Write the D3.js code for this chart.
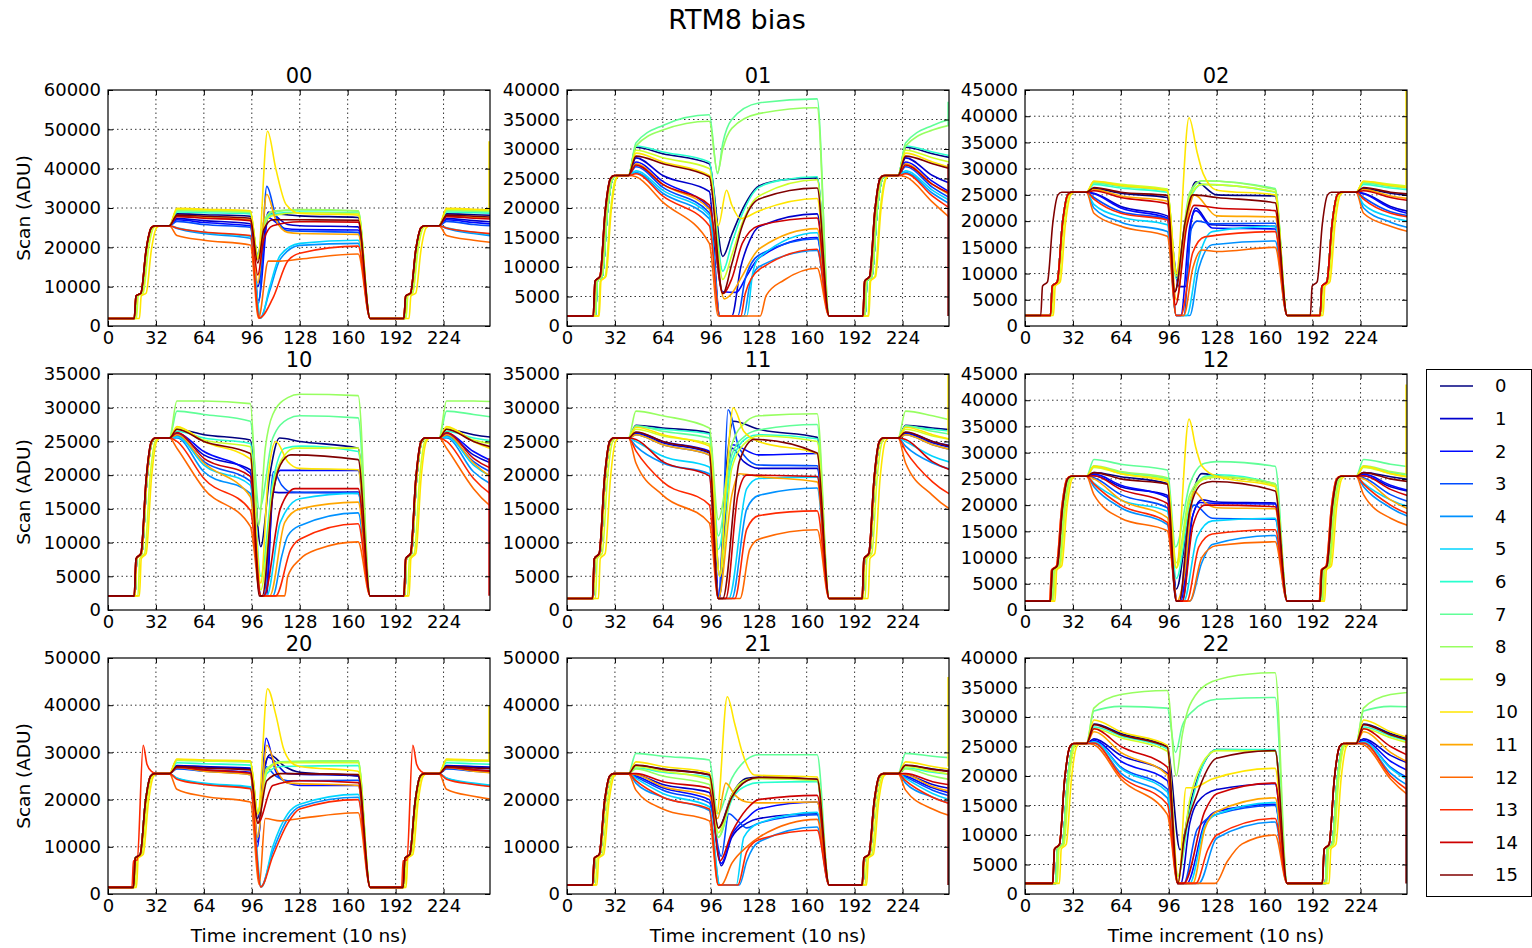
<!DOCTYPE html>
<html><head><meta charset="utf-8">
<script src="https://cdn.jsdelivr.net/npm/d3@7"></script>
<style>body{margin:0;background:#fff} text{font-family:"DejaVu Sans",sans-serif}</style>
</head><body><svg id="c" width="1532" height="948"></svg>
<script>
// ---------------- data ----------------
const panelTitles = ["00","01","02","10","11","12","20","21","22"];
const yMax  = [60000, 40000, 45000, 35000, 35000, 45000, 50000, 50000, 40000];
const yStep = [10000, 5000, 5000, 5000, 5000, 5000, 10000, 10000, 5000];
const baseLevel = [1900, 1700, 2000, 2100, 1700, 1700, 1400, 1900, 1800];
const plateau = 25500;
const xTickVals = [0, 32, 64, 96, 128, 160, 192, 224];
const seriesNames = ["0","1","2","3","4","5","6","7","8","9","10","11","12","13","14","15"];
// shared rising-edge shape: offsets from rise start, and levels
const riseDX = [1.2, 4.5, 8, 11.5, 14];
const riseY  = [7600, 8400, 19500, 25000, 25500];
const spikeDX = [1, 3.5, 7.5, 10, 13, 17];
const spikeY  = [7000, 7200, null, 27500, 26000, 25500];
// knot times of the first cycle plateau / decay, and cycle repeat offset
const cycleT = [41, 46, 64, 95];
const fallEndT = 175;
const cycleShift = 180;

// rows: [rise start, level@46, level@64, level@95, post-dip knots [[t,v]...], optional spike]
const s00 = [
 [18, 28500, 28300, 27900, [[100,18000],[104,26000],[110,28500],[128,28000],[167,27600]]],
 [18, 27300, 26800, 26000, [[100,10000],[107,29000],[120,25800],[128,25500],[167,25200]]],
 [18, 27000, 26300, 25500, [[100.5,6500],[107,27500],[118,24800],[128,24500],[167,24400]]],
 [18, 26600, 25800, 25100, [[100.5,5800],[106,35500],[112,28000],[120,24200],[167,23800]]],
 [18, 24800, 23500, 22300, [[101.5,2000],[108,9000],[115,17000],[128,20500],[167,21000]]],
 [18, 25000, 23800, 22800, [[102,2000],[108,10000],[115,18000],[128,21000],[167,21800]]],
 [18, 29000, 28800, 28500, [[100,18000],[104,26000],[110,28500],[128,29000],[167,28700]]],
 [18, 29300, 29200, 28800, [[100,17500],[104,26500],[110,29000],[128,29500],[167,29200]]],
 [18, 29500, 29300, 29000, [[100,17000],[104,26500],[110,29200],[128,29600],[167,29300]]],
 [19, 29700, 29500, 29200, [[100,17500],[104,25000],[109,28000],[128,28800],[167,28600]]],
 [21, 29900, 29700, 29300, [[100,17000],[106.5,49500],[112,40000],[119,30800],[128,28600],[167,28200]]],
 [17.5, 28000, 27600, 27000, [[100,11000],[106,33500],[112,27000],[120,23800],[128,23500],[167,23300]]],
 [17.5, 23000, 21800, 20600, [[100.5,2000],[107,16500],[115,16500],[128,17000],[167,18300]]],
 [17.5, 24900, 23900, 23000, [[101,2000],[110,7000],[120,16500],[128,18500],[167,20300]]],
 [17.5, 27800, 27400, 26800, [[100,13000],[104,22000],[110,25500],[128,26500],[167,26400]]],
 [17.5, 28200, 27900, 27400, [[100,16000],[104,24500],[110,27000],[128,27000],[167,26900]]]
];
const s01 = [
 [19, 30300, 29200, 27500, [[104,11800],[110,15500],[117,19700],[128,23700],[145,24800],[167,25100]]],
 [19, 28500, 25500, 22800, [[102,1700],[110,1700],[116,10000],[122,14500],[128,16800],[167,19000]]],
 [19, 27800, 24500, 20000, [[104,5800],[113,5700],[120,8500],[128,11500],[167,15000]]],
 [19, 27000, 23500, 19200, [[102,1700],[114,1700],[119,8000],[128,12000],[167,14800]]],
 [19, 26000, 22500, 18200, [[102,1700],[118,1700],[122,7000],[128,10000],[167,12800]]],
 [19, 26300, 23000, 18800, [[102,1700],[120,1700],[124,9000],[128,11500],[167,15800]]],
 [19, 30500, 29500, 27800, [[104,9300],[110,14000],[117,19000],[128,23500],[145,24800],[167,25300]]],
 [19, 31000, 34000, 35800, [[100.5,25800],[104,31000],[110,35000],[128,37800],[167,38500]]],
 [19, 30500, 33200, 34700, [[100.5,26000],[104,30000],[110,33500],[128,36000],[167,37000]]],
 [21, 29800, 28500, 26700, [[104,7900],[110,12000],[117,17500],[128,22000],[167,24800]]],
 [21.5, 29300, 27800, 25500, [[101,17000],[106.5,23000],[110,20500],[116,18200],[128,19500],[167,21600]]],
 [18, 27500, 24000, 19800, [[105,4600],[110,5500],[117,8500],[128,13000],[167,16500]]],
 [17.5, 25300, 21000, 14000, [[101,1700],[129,1700],[133,5200],[145,7800],[167,9800]]],
 [17.5, 25800, 22000, 17000, [[102,1700],[116,1700],[119,5500],[128,9500],[167,13000]]],
 [17.5, 27300, 24000, 20500, [[104,5500],[110,8000],[117,14000],[128,17000],[167,18300]]],
 [17.5, 28800, 27500, 25300, [[104,5500],[110,10500],[117,17000],[128,21500],[167,23400]]]
];
const s02 = [
 [17, 26200, 25300, 24500, [[100,6500],[107,20000],[114,27500],[128,25000],[167,24800]]],
 [17, 25300, 22800, 21000, [[103,7500],[107,7500],[111,20000],[114,22500],[124,19300],[167,19000]]],
 [17, 25200, 22500, 20600, [[101,2000],[104,2000],[110,19000],[114,22000],[125,18700],[167,18500]]],
 [17, 24500, 21800, 20400, [[101,2000],[106,2000],[111,18500],[115,20000],[125,19500],[167,19600]]],
 [17, 22500, 19800, 18000, [[101,2000],[110,2000],[116,11000],[125,15500],[167,16200]]],
 [17, 23200, 20800, 19300, [[101,2000],[108,2000],[115,12000],[125,18000],[167,19000]]],
 [17, 27000, 26300, 25500, [[101,9000],[110,24000],[118,27000],[167,25500]]],
 [17, 27300, 26600, 25800, [[101,10000],[110,25000],[118,27700],[167,26200]]],
 [17, 27500, 26800, 26000, [[101,10000],[110,25500],[118,27700],[167,26000]]],
 [18, 27600, 27000, 26100, [[101,9500],[110,24500],[118,27000],[167,25600]]],
 [19, 27600, 26800, 25800, [[101,10000],[109.5,39700],[115,33000],[119,29000],[128,25900],[167,25000]]],
 [17, 26000, 24800, 23800, [[101,5000],[108,20000],[113,25000],[128,21000],[167,20800]]],
 [17, 21500, 19000, 17100, [[101,2000],[106,2000],[112,11000],[118,14500],[128,14200],[167,15000]]],
 [17, 24200, 21500, 20200, [[101,2000],[104,2000],[112,14000],[120,17000],[167,18000]]],
 [17, 25800, 24500, 23300, [[100.5,4000],[108,19000],[113,23000],[128,22500],[167,22000]]],
 [10.5, 26400, 25500, 24900, [[100,6500],[107,20000],[112,25000],[128,24500],[167,23500]]]
];
const s10 = [
 [18, 26800, 26000, 25200, [[102,9400],[108,20000],[114.5,25500],[128,25000],[167,24000]]],
 [18, 26000, 23000, 20800, [[102,2100],[106,2100],[110,17500],[115,17400],[167,17500]]],
 [18, 26200, 23500, 20300, [[102,2100],[105,2100],[110,17000],[115,20700],[167,20700]]],
 [18, 25800, 22000, 19100, [[101.5,2100],[104,2100],[110.5,20500],[116,18500],[122,17500],[167,17300]]],
 [18, 25500, 20500, 17300, [[102,2100],[110,2100],[116,8000],[120,11000],[128,12500],[167,14400]]],
 [18, 25700, 21500, 18500, [[102,2100],[106,2100],[115,13000],[128,16500],[167,17300]]],
 [18, 26500, 25500, 24700, [[102,5000],[110,19000],[118,24000],[128,24300],[167,23500]]],
 [18, 29500, 29000, 28000, [[101,15000],[110,25500],[120,28300],[128,28800],[167,28500]]],
 [18, 31000, 31000, 30600, [[100.5,12500],[105,24000],[110,29000],[120,31500],[128,32000],[167,31800]]],
 [20, 27000, 25200, 24200, [[102,3000],[110,18000],[118,23000],[125,24000],[167,24000]]],
 [21, 27200, 25000, 22400, [[102,4000],[107,20000],[112,25000],[120,22000],[128,21000],[167,20800]]],
 [18, 26000, 21800, 16800, [[102,2100],[108,2100],[118,13000],[128,15000],[167,16000]]],
 [17.5, 24000, 18000, 12400, [[102,2100],[118,2100],[120,5000],[128,7500],[140,9000],[167,10100]]],
 [17.5, 25000, 19500, 14800, [[102,2100],[112,2100],[122,9000],[128,10500],[167,12800]]],
 [17.5, 26300, 22500, 19800, [[102,2100],[104,2100],[115,15000],[125,18000],[167,18000]]],
 [17.5, 26800, 25000, 23200, [[101,2100],[103,2100],[110,17000],[115,21500],[122,23000],[167,22300]]]
];
const s11 = [
 [17.5, 27400, 27000, 26300, [[102,5000],[106,20000],[111,28000],[128,26800],[167,25600]]],
 [17.5, 26200, 24800, 23300, [[101.5,1700],[106,15000],[110,24000],[118,22000],[128,21000],[167,21000]]],
 [17.5, 26300, 25000, 23600, [[101.5,1700],[106,14000],[110,24500],[128,23000],[167,23200]]],
 [17.5, 26000, 24500, 23000, [[101,1700],[104,12000],[107.5,29700],[115,24000],[128,21500],[167,21400]]],
 [17.5, 24300, 21800, 20200, [[101,1700],[110,1700],[120,15000],[128,17000],[167,18100]]],
 [17.5, 25000, 22800, 21200, [[101,1700],[108,1700],[120,18000],[128,19500],[167,19700]]],
 [17.5, 27200, 26800, 26100, [[101,9000],[110,22000],[120,25500],[128,26000],[167,25400]]],
 [17.5, 27300, 26500, 25500, [[101,11000],[110,23000],[120,26000],[128,26700],[167,27500]]],
 [17.5, 29500, 28800, 27000, [[101,13400],[110,24500],[120,28000],[128,28800],[167,29100]]],
 [19, 26800, 25800, 24600, [[102,5000],[110,21000],[120,25000],[128,25800],[167,25000]]],
 [21, 27100, 26000, 24300, [[102,5000],[106,18000],[111,30000],[118,26500],[128,25000],[167,23200]]],
 [17.5, 26000, 24500, 23000, [[101,1700],[110,17000],[115,20200],[128,19800],[167,19000]]],
 [17, 21800, 17000, 12900, [[101,1700],[115.5,1700],[122,9000],[128,10500],[167,11900]]],
 [17, 23600, 19000, 15600, [[101,1700],[112,1700],[120,12000],[128,14000],[167,14700]]],
 [17, 25300, 22000, 19900, [[101,1700],[106,1700],[114,17000],[120,20000],[167,19800]]],
 [17, 26400, 25000, 23400, [[101,1700],[104,1700],[115,22000],[125,25300],[167,23300]]]
];
const s12 = [
 [18, 26200, 25400, 24100, [[101,4000],[110,20000],[118,26000],[128,25600],[167,24000]]],
 [18, 25600, 23500, 21900, [[101.5,1700],[105,1700],[112,18000],[118,21000],[128,20600],[167,20400]]],
 [18, 25900, 23800, 21500, [[101.5,1700],[104,1700],[111,17000],[117,20500],[128,20300],[167,20200]]],
 [18, 25200, 22000, 19500, [[101,1700],[103.5,1700],[109,17000],[113,20000],[125,17500],[167,17300]]],
 [18, 23500, 19500, 16300, [[101.5,1700],[110,1700],[118,9000],[125,12500],[167,14200]]],
 [18, 24200, 21000, 18800, [[101.5,1700],[106,1700],[115,14000],[125,17000],[167,17500]]],
 [18, 27300, 26200, 25000, [[101,6000],[110,20000],[120,25500],[128,25800],[167,24000]]],
 [18, 28700, 27800, 26700, [[100.5,12000],[110,24000],[120,28000],[128,28300],[167,27400]]],
 [18, 27500, 26400, 25200, [[101,9000],[110,22000],[120,25300],[128,25500],[167,24100]]],
 [19, 27200, 26000, 24800, [[101,8000],[110,21000],[120,25000],[128,25300],[167,23800]]],
 [20, 27400, 26000, 24500, [[101,8000],[109.5,36400],[114,31000],[118,27500],[128,25500],[167,23500]]],
 [17, 25000, 21000, 17600, [[101.5,1700],[106,6000],[113,22600],[120,20500],[128,19500],[167,19300]]],
 [16.5, 22000, 17500, 15100, [[101.5,1700],[110,1700],[118,10000],[128,12300],[167,13000]]],
 [16.5, 24000, 20000, 16700, [[101.5,1700],[108,1700],[116,12000],[125,14500],[167,15300]]],
 [17, 25600, 23000, 20300, [[101,1700],[105,1700],[112,16000],[120,20000],[167,19700]]],
 [17, 26200, 25000, 24000, [[101,1700],[103,1700],[110,19000],[118,24000],[125,24500],[167,22700]]]
];
const s20 = [
 [17, 27000, 26800, 26500, [[100,16000],[104,26000],[108,29500],[118,27000],[128,25800],[167,25000]]],
 [17, 27200, 27000, 26700, [[100,11000],[104,25000],[107,29000],[120,25500],[167,25000]]],
 [17, 26800, 26300, 25800, [[100,10000],[103,24000],[105.5,33000],[112,26000],[120,23500],[128,23000],[167,23000]]],
 [17, 26500, 26000, 25300, [[100,12000],[105,27000],[112,25000],[120,24000],[167,24100]]],
 [17, 24500, 23300, 22500, [[102,1500],[110,9000],[120,16000],[128,18500],[167,20500]]],
 [17, 24600, 23500, 22700, [[102.5,1500],[110,10000],[120,17000],[128,19000],[167,21100]]],
 [17, 27800, 27600, 27300, [[100,17500],[106,25500],[115,27000],[167,27200]]],
 [17, 28300, 28200, 28000, [[100,17500],[106,26500],[115,28000],[167,28200]]],
 [17, 28500, 28300, 28100, [[100,17000],[106,26500],[115,28000],[167,28200]]],
 [18, 28400, 28200, 28000, [[100,17000],[106,26000],[115,27800],[167,27800]]],
 [19, 28600, 28400, 28200, [[100,17000],[106.5,43500],[112,38000],[117,31000],[122,28000],[128,27000],[167,26000]]],
 [17, 26800, 26000, 25300, [[100,12000],[106,31500],[113,26000],[120,23500],[167,23000]]],
 [17, 22200, 20700, 19500, [[101,2000],[105,16000],[115,15500],[128,16000],[167,17200]]],
 [16, 24300, 23200, 22300, [[102,1500],[110,8000],[120,15000],[128,18000],[167,20000]], 31500],
 [17, 26800, 26300, 25600, [[100,15000],[110,23000],[128,24000],[167,23600]]],
 [17, 27000, 26700, 26300, [[100,15000],[106,24000],[115,25500],[167,25300]]]
];
const s21 = [
 [17.5, 27200, 26500, 25200, [[101,14000],[110,21000],[120,24500],[128,24700],[167,24300]]],
 [17.5, 25300, 23200, 21500, [[103,6000],[110,12000],[120,15000],[128,16000],[167,17000]]],
 [17.5, 25000, 22500, 20000, [[103,6500],[110,12500],[120,16000],[128,18000],[167,19500]]],
 [17.5, 24800, 22000, 19300, [[103,8000],[108,17000],[114,15500],[120,14000],[128,15000],[167,16800]]],
 [17.5, 23500, 20500, 17700, [[102,1900],[115,1900],[120,7000],[128,11000],[167,14200]]],
 [17.5, 24500, 21300, 18500, [[102,1900],[113,1900],[118,12000],[128,15000],[167,17300]]],
 [17.5, 26700, 25800, 24800, [[101,12000],[110,20000],[120,23000],[128,23600],[167,23800]]],
 [17.5, 29800, 29200, 28400, [[100.5,17000],[110,24500],[120,28500],[128,29500],[167,29500]]],
 [17.5, 26500, 25000, 23200, [[101,12000],[110,20500],[120,24000],[128,24500],[167,24000]]],
 [19, 27000, 26000, 24300, [[101,13000],[110,21000],[120,24200],[128,24500],[167,24200]]],
 [20, 28000, 27000, 25700, [[100,17000],[107,41800],[112,36000],[117,30000],[125,25200],[167,24800]]],
 [17.5, 25300, 22800, 20700, [[100.5,16000],[106,23500],[112,21000],[120,19500],[128,19300],[167,19500]]],
 [17, 22000, 18000, 15500, [[101,1900],[103,1900],[110,6500],[120,10000],[128,12000],[167,15800]]],
 [17, 24000, 20500, 18000, [[101,1900],[114,1900],[120,9000],[128,11500],[167,13500]]],
 [17, 25500, 23800, 22400, [[102,7000],[110,13000],[120,18000],[128,20000],[167,20900]]],
 [17, 27300, 26400, 25300, [[101,14000],[110,20500],[120,24000],[128,24700],[167,24300]]]
];
const s22 = [
 [20.5, 28800, 27200, 25000, [[103.5,7500],[110,15000],[120,22500],[128,24500],[167,24300]]],
 [20.5, 26300, 23500, 20500, [[102,1800],[104,1800],[110,12000],[115,15500],[128,17700],[167,18700]]],
 [20.5, 26000, 22500, 19200, [[102,1800],[108,1800],[120,12000],[128,14000],[167,15200]]],
 [20.5, 25800, 21500, 17800, [[102,1800],[106,1800],[115,11000],[128,13500],[167,15000]]],
 [20.5, 25500, 20500, 16300, [[102,1800],[116,1800],[128,9500],[167,12200]]],
 [20.5, 25800, 21300, 17300, [[102,1800],[110,1800],[120,11500],[128,13500],[167,15500]]],
 [20.5, 28300, 26800, 24600, [[102,3000],[110,14000],[120,22500],[128,24500],[167,24500]]],
 [20.5, 31000, 31800, 31500, [[100.5,24000],[105,28500],[112,31000],[128,33000],[167,33300]]],
 [20.5, 31500, 33800, 34500, [[101,20000],[105,27000],[110,32000],[125,36000],[150,37300],[167,37500]]],
 [21.5, 28000, 26500, 24200, [[102,3000],[110,16000],[118,22000],[128,24300],[167,24200]]],
 [23, 29500, 27500, 25200, [[102.5,1800],[107.5,18000],[112,18000],[125,19500],[167,21300]]],
 [18.5, 27500, 24000, 20200, [[102,1800],[112,1800],[120,11000],[128,14000],[167,16300]]],
 [18.5, 25300, 19500, 13500, [[102,1800],[127,1800],[135,5500],[145,8500],[167,10000]]],
 [18.5, 25600, 20000, 15200, [[102,1800],[114,1800],[122,7500],[128,10000],[167,12800]]],
 [18.5, 28000, 25000, 21500, [[102,1800],[106,1800],[120,14000],[128,17000],[167,18800]]],
 [18.5, 28700, 27000, 24900, [[102,1800],[106,9000],[115,17000],[128,23000],[167,24300]]]
];
// last-sample jumps at the right edge: [series, value]
const e00 = [[10, 47000]];
const e01 = [[7, 38000], [15, 1700]];
const e02 = [[10, 45000]];
const e10 = [[14, 2100]];
const e11 = [[10, 35000]];
const e12 = [[10, 43000]];
const e20 = [[10, 40000]];
const e21 = [[10, 46000], [15, 1900]];
const e22 = [[15, 1800]];

const seriesData = [s00, s01, s02, s10, s11, s12, s20, s21, s22];
const edgeData = [e00, e01, e02, e10, e11, e12, e20, e21, e22];

// ---------------- drawing ----------------
const jet = ["#000080","#0000cd","#0008ff","#004cff","#0091ff","#00d4ff","#29ffce","#60ff97",
             "#97ff60","#ceff29","#ffe600","#ffa700","#ff6800","#ff2900","#cd0000","#800000"];
const W = 1532, H = 948;
const lefts = [108, 567, 1025], tops = [90, 374, 658], PW = 382, PH = 236;
const FS = 18, LFS = 18.5, LW = 1.6;

function buildKnots(row, base) {
  const [r, a, m, b, post, spike] = row;
  const pts = [[0, base]];
  function cycle(off) {
    pts.push([r + off, base]);
    if (spike) spikeDX.forEach((dx, i) => pts.push([r + off + dx, spikeY[i] === null ? spike : spikeY[i]]));
    else riseDX.forEach((dx, i) => pts.push([r + off + dx, riseY[i]]));
    pts.push([cycleT[0] + off, plateau], [cycleT[1] + off, a], [cycleT[2] + off, m], [cycleT[3] + off, b]);
  }
  cycle(0);
  post.forEach(p => pts.push(p));
  pts.push([fallEndT, base]);
  cycle(cycleShift);
  return pts;
}

const svg = d3.select("#c");
svg.append("rect").attr("width", W).attr("height", H).attr("fill", "#fff");
svg.append("text").attr("x", 737).attr("y", 29).attr("text-anchor", "middle")
   .attr("font-size", 27).text("RTM8 bias");

const defs = svg.append("defs");

panelTitles.forEach((title, k) => {
  const row = Math.floor(k / 3), col = k % 3;
  const L = lefts[col], T = tops[row];
  const x = d3.scaleLinear().domain([0, 255]).range([L, L + PW]);
  const y = d3.scaleLinear().domain([0, yMax[k]]).range([T + PH, T]);
  const yt = d3.range(0, yMax[k] + 1, yStep[k]);
  const g = svg.append("g");

  // grid
  g.selectAll(null).data(xTickVals.filter(v => v > 0)).join("line")
    .attr("x1", d => x(d)).attr("x2", d => x(d)).attr("y1", T).attr("y2", T + PH)
    .attr("stroke", "#000").attr("stroke-width", 0.8).attr("stroke-dasharray", "1.5,3");
  g.selectAll(null).data(yt.filter(v => v > 0 && v < yMax[k])).join("line")
    .attr("y1", d => y(d)).attr("y2", d => y(d)).attr("x1", L).attr("x2", L + PW)
    .attr("stroke", "#000").attr("stroke-width", 0.8).attr("stroke-dasharray", "1.5,3");

  // lines
  const cid = "clip" + k;
  defs.append("clipPath").attr("id", cid).append("rect")
    .attr("x", L).attr("y", T).attr("width", PW).attr("height", PH);
  const lg = g.append("g").attr("clip-path", `url(#${cid})`);
  const line = d3.line().x(d => x(d[0])).y(d => y(d[1])).curve(d3.curveMonotoneX);
  const base = baseLevel[k];
  lg.selectAll(null).data(seriesData[k]).join("path")
    .attr("d", d => line(buildKnots(d, base)))
    .attr("fill", "none").attr("stroke", (d, i) => jet[i]).attr("stroke-width", LW);
  lg.selectAll(null).data(edgeData[k]).join("line")
    .attr("x1", x(255) - 0.9).attr("x2", x(255) - 0.9)
    .attr("y1", d => y(seriesData[k][d[0]][2])).attr("y2", d => y(d[1]))
    .attr("stroke", d => jet[d[0]]).attr("stroke-width", LW);

  // axes
  const styleAxis = sel => {
    sel.select(".domain").remove();
    sel.selectAll("text").attr("font-size", FS).attr("font-family", "DejaVu Sans").attr("fill", "#000");
    sel.selectAll("line").attr("stroke", "#000");
    sel.attr("font-size", FS).attr("font-family", "DejaVu Sans");
  };
  g.append("g").attr("transform", `translate(0,${T + PH})`)
    .call(d3.axisBottom(x).tickValues(xTickVals).tickFormat(d3.format("d"))
      .tickSizeInner(-5).tickSizeOuter(0).tickPadding(5.5)).call(styleAxis);
  g.append("g").attr("transform", `translate(0,${T})`)
    .call(d3.axisTop(x).tickValues(xTickVals).tickFormat("").tickSizeInner(-5).tickSizeOuter(0)).call(styleAxis);
  g.append("g").attr("transform", `translate(${L},0)`)
    .call(d3.axisLeft(y).tickValues(yt).tickFormat(d3.format("d"))
      .tickSizeInner(-5).tickSizeOuter(0).tickPadding(7)).call(styleAxis);
  g.append("g").attr("transform", `translate(${L + PW},0)`)
    .call(d3.axisRight(y).tickValues(yt).tickFormat("").tickSizeInner(-5).tickSizeOuter(0)).call(styleAxis);

  // frame
  g.append("rect").attr("x", L).attr("y", T).attr("width", PW).attr("height", PH)
    .attr("fill", "none").attr("stroke", "#000").attr("stroke-width", 1.2);

  // titles / labels
  g.append("text").attr("x", L + PW / 2).attr("y", T - 7).attr("text-anchor", "middle")
    .attr("font-size", 21).text(title);
  if (col === 0) {
    g.append("text").attr("transform", `translate(30,${T + PH / 2}) rotate(-90)`)
      .attr("text-anchor", "middle").attr("font-size", LFS).text("Scan (ADU)");
  }
  if (row === 2) {
    g.append("text").attr("x", L + PW / 2).attr("y", 942).attr("text-anchor", "middle")
      .attr("font-size", LFS).text("Time increment (10 ns)");
  }
});

// legend
const lgd = svg.append("g");
lgd.append("rect").attr("x", 1426.5).attr("y", 369.5).attr("width", 105).attr("height", 527)
  .attr("fill", "#fff").attr("stroke", "#000").attr("stroke-width", 1);
const ly = d3.scalePoint().domain(seriesNames).range([386, 875]);
const items = lgd.selectAll(null).data(seriesNames).join("g");
items.append("line").attr("x1", 1440).attr("x2", 1473)
  .attr("y1", d => ly(d)).attr("y2", d => ly(d))
  .attr("stroke", (d, i) => jet[i]).attr("stroke-width", LW);
items.append("text").attr("x", 1495).attr("y", d => ly(d)).attr("dy", "0.36em")
  .attr("font-size", FS).text(d => d);
</script></body></html>
